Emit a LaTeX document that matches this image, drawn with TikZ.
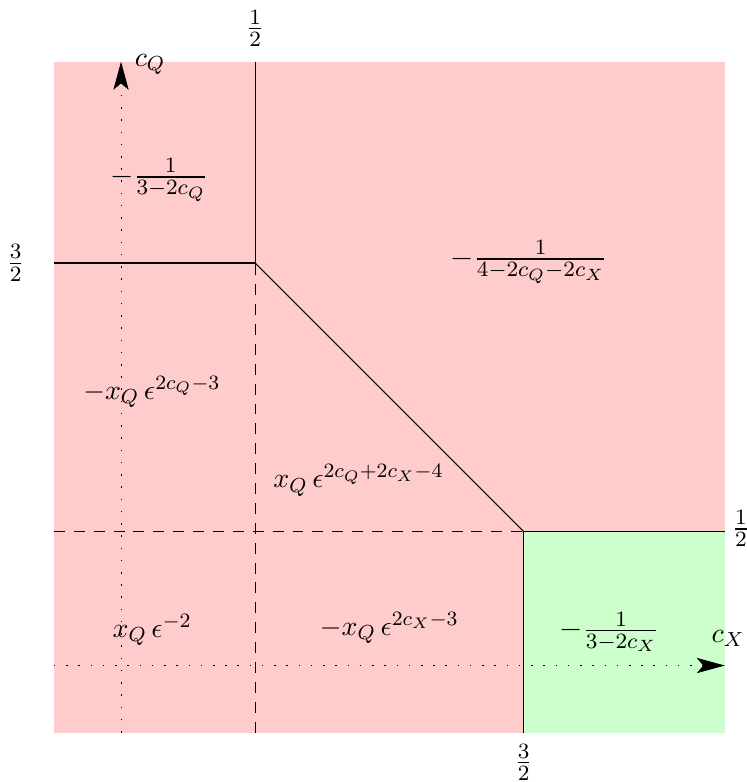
\documentclass[tikz,border=0pt,11pt]{standalone}
\usepackage{amsmath,amssymb}
\usepackage{xcolor}
\usepackage{tikz}
\usetikzlibrary{arrows.meta}
\definecolor{regred}{RGB}{255,204,204}
\definecolor{reggreen}{RGB}{204,255,204}

\begin{document}
\begin{tikzpicture}[x=3.7cm,y=3.7cm]
\tikzset{ax/.style={dash pattern=on 0.6pt off 4.2pt,-{Stealth[length=11pt,width=6pt,inset=2.5pt]}},bd/.style={dash pattern=on 4.3pt off 3.5pt},fr/.style={scale=1.07}}
\useasboundingbox (-0.451,-0.434) rectangle (2.329,2.480);
\fill[regred] (-0.25,-0.25) rectangle (2.25,2.25);
\fill[reggreen] (1.5,-0.25) rectangle (2.25,0.5);
\coordinate (k1) at (0.5,1.5); \coordinate (k2) at (1.5,0.5);
\coordinate (l1) at (-0.25,1.5); \coordinate (t1) at (0.5,2.25); \coordinate (b1) at (0.5,-0.25);
\coordinate (l2) at (-0.25,0.5); \coordinate (r2) at (2.25,0.5); \coordinate (b2) at (1.5,-0.25);
\draw[bd] (b1)--(k1); \draw[bd] (l2)--(k2);
\draw (l1)--(k1)--(t1); \draw (k1)--(k2); \draw (b2)--(k2)--(r2);
\coordinate (ox) at (-0.25,0); \coordinate (ex) at (2.25,0);
\coordinate (oy) at (0,-0.25); \coordinate (ey) at (0,2.25);
\draw[ax] (ox)--(ex); \draw[ax] (oy)--(ey);
% axis labels and ticks
\node (cq) at (0.108,2.24) {$c_Q$};
\node (cx) at (2.262,0.102) {$c_X$};
\node[fr] (tx1) at (0.5,2.375) {$\frac12$};
\node[fr] (tx3) at (1.5,-0.36) {$\frac32$};
\node[fr] (ty3) at (-0.393,1.5) {$\frac32$};
\node[fr] (ty1) at (2.31,0.51) {$\frac12$};
% region values
\node[fr] (f1) at (0.142,1.809) {$-\frac{1}{3-2c_Q}$};
\node[fr] (f2) at (1.52,1.503) {$-\frac{1}{4-2c_Q-2c_X}$};
\node (f3) at (0.115,1.02) {$-x_Q\,\epsilon^{2c_Q-3}$};
\node (f4) at (0.885,0.69) {$x_Q\,\epsilon^{2c_Q+2c_X-4}$};
\node (f5) at (0.116,0.132) {$x_Q\,\epsilon^{-2}$};
\node (f6) at (1.0,0.14) {$-x_Q\,\epsilon^{2c_X-3}$};
\node[fr] (f7) at (1.82,0.125) {$-\frac{1}{3-2c_X}$};
\end{tikzpicture}
\end{document}
